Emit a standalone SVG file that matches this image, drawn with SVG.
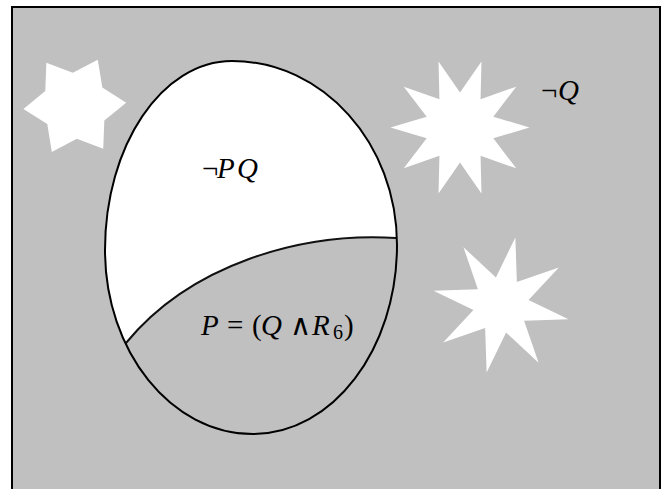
<svg xmlns="http://www.w3.org/2000/svg" width="668" height="489" viewBox="0 0 668 489">
<style>
.star{fill:#ffffff;stroke:none}
.t{font-family:"Liberation Serif","DejaVu Serif",serif;font-size:29px;fill:#000}
.i{font-style:italic}
.sub{font-size:20px}
</style>
<defs>
<clipPath id="ell">
<path d="M232,61 C323.1,61 397,143.4 397,245 C397,349.4 332.5,434 253,434 C171.3,434 105,351.6 105,250 C105,145.6 161.9,61 232,61 Z"/>
</clipPath>
</defs>
<rect x="12" y="7" width="648" height="500" fill="#c0c0c0" stroke="#000" stroke-width="2"/>
<g id="star6">
<polygon class="star" points="126.2,102.66 104.33,120.52 103.23,148.75 76.81,138.74 51.82,151.89 47.28,124.01 23.4,108.94 45.27,91.08 46.37,62.85 72.79,72.86 97.78,59.71 102.32,87.59"/>
</g>
<g id="star10">
<polygon class="star" points="529.5,127.5 493.29,138.32 516.23,168.35 480.57,155.82 481.48,193.6 460,162.5 438.52,193.6 439.43,155.82 403.77,168.35 426.71,138.32 390.5,127.5 426.71,116.68 403.77,86.65 439.43,99.18 438.52,61.4 460,92.5 481.48,61.4 480.57,99.18 516.23,86.65 493.29,116.68"/>
</g>
<g id="star8">
<polygon class="star" points="515.35,237.51 516.86,281.92 558.87,267.42 528.53,299.9 568.49,319.35 524.08,320.86 538.58,362.87 506.1,332.53 486.65,372.49 485.14,328.08 443.13,342.58 473.47,310.1 433.51,290.65 477.92,289.14 463.42,247.13 495.9,277.47"/>
</g>
<g id="ellipse">
<path d="M232,61 C323.1,61 397,143.4 397,245 C397,349.4 332.5,434 253,434 C171.3,434 105,351.6 105,250 C105,145.6 161.9,61 232,61 Z" fill="#ffffff" stroke="none"/>
<path clip-path="url(#ell)" d="M106,367 L126,343 C190,265 300,232 396,238 L420,239.5 L420,460 L90,460 Z" fill="#c0c0c0" stroke="none"/>
<path clip-path="url(#ell)" d="M106,367 L126,343 C190,265 300,232 396,238 L420,239.5" fill="none" stroke="#111" stroke-width="2"/>
<path d="M232,61 C323.1,61 397,143.4 397,245 C397,349.4 332.5,434 253,434 C171.3,434 105,351.6 105,250 C105,145.6 161.9,61 232,61 Z" fill="none" stroke="#000" stroke-width="2"/>
</g>
<g id="labels">
<text class="t" y="178"><tspan x="202">¬</tspan><tspan class="i" x="217">P</tspan><tspan class="i" x="237">Q</tspan></text>
<text class="t" y="335"><tspan class="i" x="201">P</tspan><tspan x="227">=</tspan><tspan x="252">(</tspan><tspan class="i" x="261">Q</tspan><tspan x="290">∧</tspan><tspan class="i" x="312">R</tspan><tspan class="sub" x="333" y="339">6</tspan><tspan x="344" y="335">)</tspan></text>
<text class="t" y="100"><tspan x="541">¬</tspan><tspan class="i" x="558">Q</tspan></text>
</g>
</svg>
